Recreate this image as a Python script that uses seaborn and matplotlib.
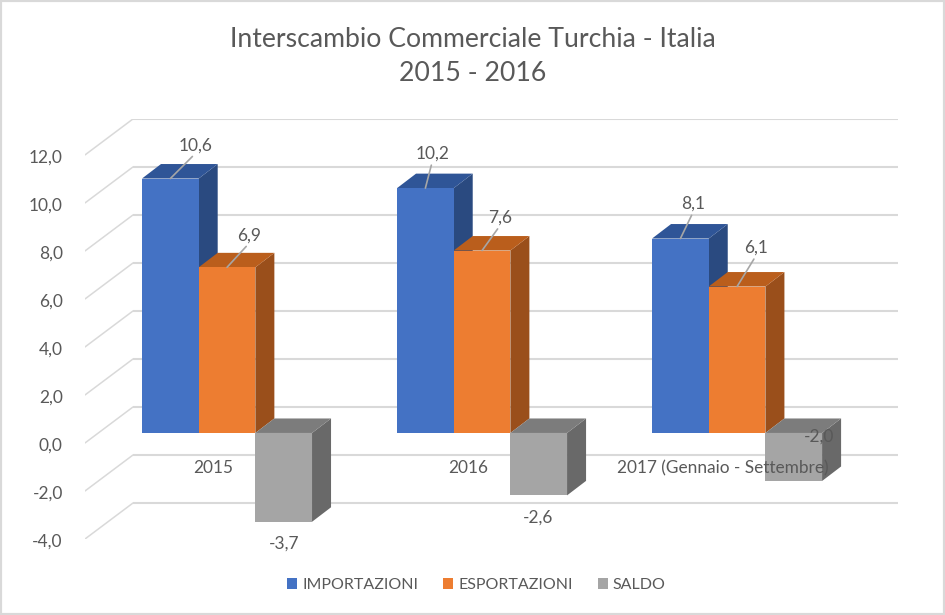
import pandas as pd
import matplotlib
matplotlib.use("Agg")
import matplotlib.pyplot as plt
import seaborn as sns
from matplotlib.patches import Polygon, Rectangle
from matplotlib.transforms import Affine2D

categories = ["2015", "2016", "2017 (Gennaio - Settembre)"]
importazioni = [10.6, 10.2, 8.1]
esportazioni = [6.9, 7.6, 6.1]
saldo = [-3.7, -2.6, -2.0]
series_names = ["IMPORTAZIONI", "ESPORTAZIONI", "SALDO"]
y_ticks = [-4, -2, 0, 2, 4, 6, 8, 10, 12]

front_colors = ["#4472C4", "#ED7D31", "#A5A5A5"]
top_colors = ["#2F5597", "#BA5E1C", "#7C7C7C"]
side_colors = ["#2A4A80", "#9A4F1B", "#696969"]
text_color = "#595959"
grid_color = "#D9D9D9"

# label offsets from the top of each bar, in pixels
label_offsets = [[(25, 33), (7, 35), (13, 35)],
                 [(22, 32), (18, 33), (19, 39)],
                 [(0, -22), (-1, -22), (25, 44)]]

sns.set_theme(style="white")
plt.rcParams["font.family"] = ["Lato", "DejaVu Sans"]

rows = []
for name, values in zip(series_names, [importazioni, esportazioni, saldo]):
    for cat, val in zip(categories, values):
        rows.append({"anno": cat, "serie": name, "valore": val})
df = pd.DataFrame(rows)

W, H = 945, 615
px_x = 255.0  # pixels per category
px_y = 24.0   # pixels per y unit
x0, y0 = 227, 433  # pixel of first category / of zero on the bar plane
left, right, top, bottom = 85, 898, 119, 539

fig = plt.figure(figsize=((W + 0.1) / 100, (H + 0.1) / 100), dpi=100, facecolor="white")
ax = fig.add_axes([left / W, 1 - bottom / H, (right - left) / W, (bottom - top) / H])

sns.barplot(data=df, x="anno", y="valore", hue="serie", order=categories, hue_order=series_names,
            palette=front_colors, saturation=1, width=2 / 3, gap=0, linewidth=0, ax=ax)

ax.set_xlim((left - x0) / px_x, (right - x0) / px_x)
ax.set_ylim((y0 - bottom) / px_y, (y0 - top) / px_y)
ax.set_xlabel("")
ax.set_ylabel("")
sns.despine(ax=ax, left=True, bottom=True)
ax.set_facecolor("none")
ax.set_axisbelow(False)

# walls: the gridlines sit behind the bars, the diagonals come forward to the labels
back_dx = (133 - left) / px_x
back_dy = 26 / px_y
front_dy = -10 / px_y
for v in y_ticks:
    ax.plot([ax.get_xlim()[0] + back_dx, ax.get_xlim()[1]], [v + back_dy, v + back_dy],
            color=grid_color, lw=1.5, zorder=0.5, solid_capstyle="butt")
    ax.plot([ax.get_xlim()[0], ax.get_xlim()[0] + back_dx], [v + front_dy, v + back_dy],
            color=grid_color, lw=1.1, zorder=0.5)

# depth of the bars
dx = 19 / px_x
dy = 14.5 / px_y
for s, container in enumerate(ax.containers):
    for c, bar in enumerate(container):
        x1 = bar.get_x()
        x2 = x1 + bar.get_width()
        hi = max(bar.get_y(), bar.get_y() + bar.get_height())
        lo = min(bar.get_y(), bar.get_y() + bar.get_height())
        z = 1 + 0.01 * (c * 3 + s)
        bar.set_zorder(z + 0.002)
        ax.add_patch(Polygon([(x2, lo), (x2 + dx, lo + dy), (x2 + dx, hi + dy), (x2, hi)],
                             facecolor=side_colors[s], edgecolor="none", zorder=z))
        ax.add_patch(Polygon([(x1, hi), (x1 + dx, hi + dy), (x2 + dx, hi + dy), (x2, hi)],
                             facecolor=top_colors[s], edgecolor="none", zorder=z))

        val = [importazioni, esportazioni, saldo][s][c]
        text = f"{val:.1f}".replace(".", ",")
        off = label_offsets[s][c]
        arrow = None
        if val > 0:
            arrow = dict(arrowstyle="-", color="#A6A6A6", lw=1.2, shrinkA=3, shrinkB=0,
                         relpos=(0.5, 0), patchA=None)
        ax.annotate(text, xy=((x1 + x2) / 2, val), xytext=off, textcoords="offset pixels",
                    ha="center", va="center", fontsize=12.5, color=text_color, zorder=5,
                    arrowprops=arrow, annotation_clip=False)

ax.set_yticks(y_ticks)
ax.set_yticklabels([f"{v:.1f}".replace(".", ",") for v in y_ticks])
ax.tick_params(axis="y", length=0, pad=16, labelsize=12.5, labelcolor=text_color)
for lab in ax.get_yticklabels():
    lab.set_transform(lab.get_transform() + Affine2D().translate(0, -11))

ax.set_xticks(range(len(categories)))
ax.set_xticklabels(categories)
ax.tick_params(axis="x", length=0, pad=0, labelsize=12.4, labelcolor=text_color)
for lab in ax.get_xticklabels():
    lab.set_transform(lab.get_transform() + Affine2D().translate(-14, 71))
    lab.set_verticalalignment("center")

handles, labels = ax.get_legend_handles_labels()
ax.legend(handles, labels, loc="center", bbox_to_anchor=(476.5 / W, 1 - 585 / H),
          bbox_transform=fig.transFigure, ncol=3, frameon=False, fontsize=11.5,
          labelcolor=text_color, handlelength=0.62, handleheight=0.62,
          handletextpad=0.33, columnspacing=1.55, borderpad=0)

fig.text(473 / W, 1 - 56.5 / H, "Interscambio Commerciale Turchia - Italia\n2015 - 2016",
         ha="center", va="center", fontsize=19.2, color=text_color, linespacing=1.43)

fig.add_artist(Rectangle((0, 0), 1, 1, transform=fig.transFigure, facecolor="none",
                         edgecolor=grid_color, lw=3))

fig.savefig("out.png", dpi=100)
